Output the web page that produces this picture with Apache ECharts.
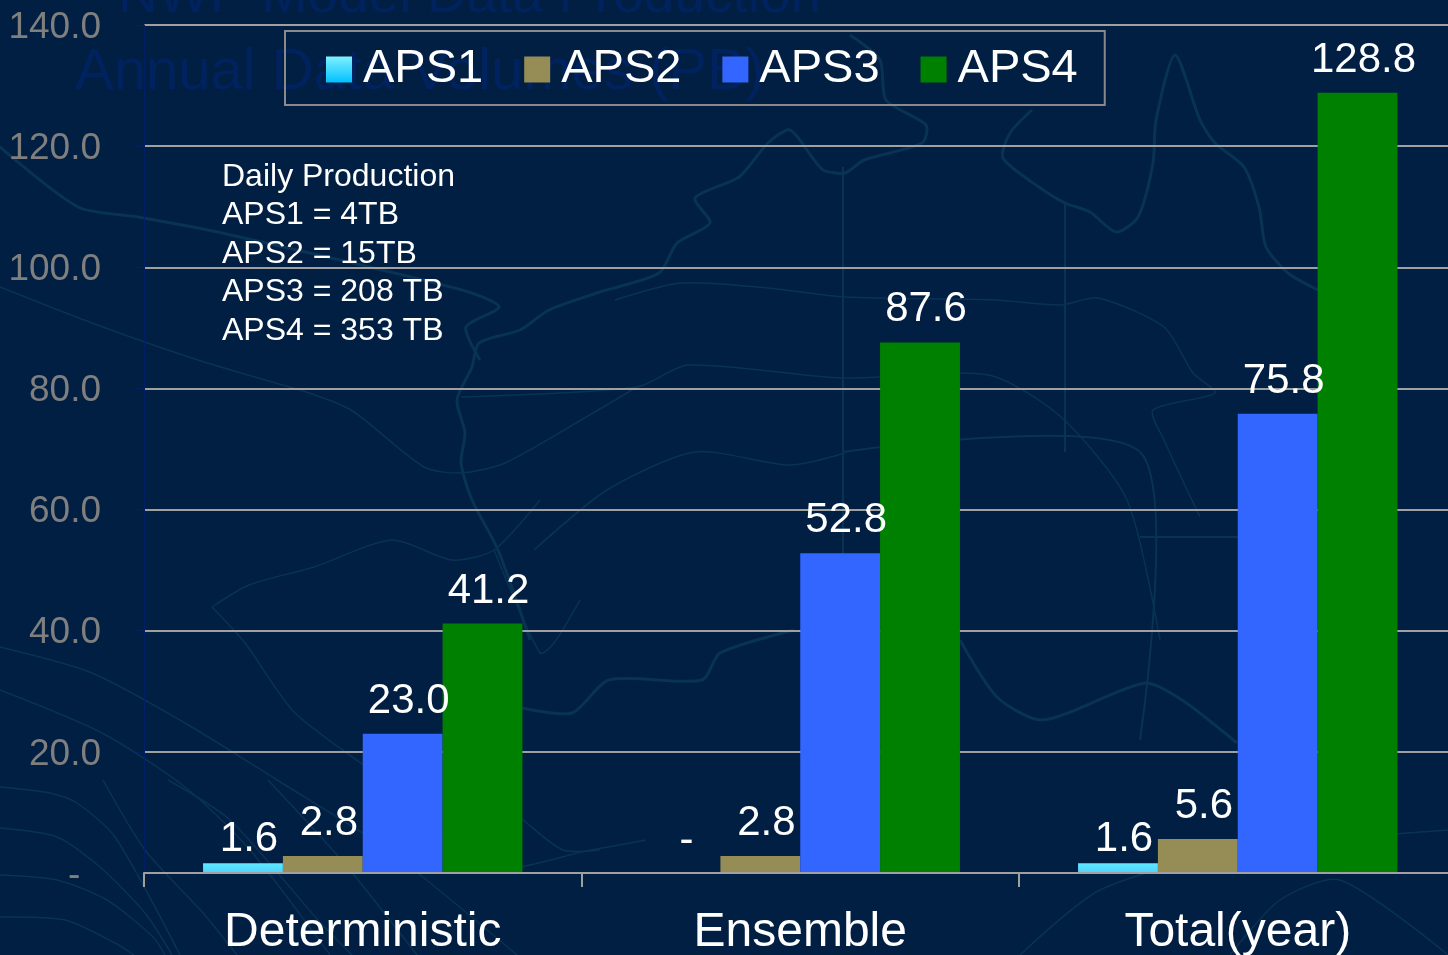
<!DOCTYPE html>
<html>
<head>
<meta charset="utf-8">
<title>Annual Data Volumes</title>
<style>
	html, body { margin: 0; padding: 0; background: #001f42; }
	#chart { width: 1448px; height: 955px; }
</style>
<script src="https://cdn.jsdelivr.net/npm/echarts@6/dist/echarts.min.js"></script>
</head>
<body>
<div id="chart"></div>
<script>
const categories = ['Deterministic', 'Ensemble', 'Total(year)'];
const aps1 = [1.6, 0, 1.6];
const aps2 = [2.8, 2.8, 5.6];
const aps3 = [23.0, 52.8, 75.8];
const aps4 = [41.2, 87.6, 128.8];
const dailyProduction = ['Daily Production', 'APS1 = 4TB', 'APS2 = 15TB', 'APS3 = 208 TB', 'APS4 = 353 TB'];
const backgroundTitle = ['NWP Model Data Production', 'Annual Data Volumes (PB)'];

// faint map behind the chart, only decoration
const coastLines = [
	[[850, 35], [880, 60], [886, 100], [926, 125], [922, 143], [864, 160], [845, 173], [823, 170], [812, 157], [790, 130], [768, 143], [739, 177], [695, 198], [710, 223], [677, 243], [659, 273], [600, 292], [549, 310], [520, 330], [479, 343], [472, 367], [457, 400], [465, 433], [461, 463], [472, 500], [498, 550], [530, 640]],
	[[1032, 110], [1010, 133], [1003, 158], [1039, 187], [1065, 203], [1090, 212], [1116, 232], [1138, 217], [1153, 163], [1156, 120], [1175, 55], [1200, 120], [1215, 143], [1244, 167], [1259, 207], [1266, 247], [1288, 273], [1318, 290]],
	[[522, 708], [572, 713], [609, 680], [702, 680], [720, 653], [794, 630]],
	[[960, 640], [997, 697], [1043, 720], [1145, 683], [1182, 700], [1237, 743]],
	[[0, 147], [78, 207], [138, 217], [222, 233], [462, 290], [499, 307], [466, 327], [480, 360]]
];
const borderLines = [
	[[843, 167], [843, 640]],
	[[1065, 203], [1065, 452]],
	[[843, 452], [1140, 452], [1140, 740]],
	[[1140, 537], [1240, 537]]
];
const riverLines = [
	[[615, 300], [681, 283], [768, 288], [845, 297], [995, 300], [1061, 305], [1098, 298], [1164, 327], [1193, 373], [1215, 393], [1153, 410], [1164, 440], [1200, 517]],
	[[461, 397], [637, 387], [688, 365], [842, 378], [988, 375], [1061, 417], [1127, 500], [1160, 640]],
	[[300, 390], [351, 410], [424, 467], [461, 473], [505, 463], [593, 413], [637, 387]],
	[[534, 550], [607, 490], [695, 452], [790, 465], [845, 453]],
	[[0, 287], [92, 323], [198, 360], [300, 390]],
	[[0, 647], [92, 673], [185, 723], [277, 780], [388, 850], [517, 955]],
	[[0, 690], [102, 733], [185, 787], [250, 850], [330, 955]],
	[[0, 787], [50, 793], [77, 803], [115, 837], [180, 955]],
	[[0, 828], [57, 837], [100, 867], [145, 913], [172, 955]],
	[[0, 875], [57, 880], [107, 900], [153, 937], [165, 955]],
	[[0, 917], [65, 920], [115, 943], [134, 955]],
	[[103, 780], [145, 850], [203, 913], [237, 955]],
	[[168, 780], [230, 820], [318, 920], [352, 955]],
	[[268, 780], [344, 863], [417, 955]],
	[[520, 817], [563, 850], [600, 850]],
	[[212, 607], [249, 585], [314, 567], [392, 540], [452, 560], [494, 550], [540, 500]],
	[[212, 607], [245, 643], [295, 713], [388, 783], [489, 867], [591, 850], [646, 840]],
	[[494, 550], [540, 653], [554, 643], [580, 600]],
	[[1020, 955], [1100, 890], [1240, 850], [1448, 830]],
	[[1230, 955], [1280, 900], [1340, 880], [1448, 955]]
];

function backdrop() {
	const items = [];
	const addLines = (lines, width) => {
		lines.forEach(points => {
			items.push({
				type: 'polyline',
				z: -10,
				silent: true,
				shape: { points: points, smooth: 0.25 },
				style: { stroke: '#083355', lineWidth: width, fill: null }
			});
		});
	};
	addLines(coastLines, 3);
	addLines(borderLines, 2);
	addLines(riverLines, 1.5);
	backgroundTitle.forEach((line, i) => {
		items.push({
			type: 'text',
			z: -9,
			silent: true,
			x: i === 0 ? 118 : 75,
			y: i === 0 ? -31 : 44,
			style: { text: line, fill: '#00235f', font: (i === 0 ? 55 : 58) + 'px "Liberation Sans"' }
		});
	});
	return items;
}

function barLabel(dy) {
	return {
		show: true,
		position: 'top',
		distance: 11.5,
		offset: [6, dy],
		color: '#fff',
		fontFamily: 'Liberation Sans',
		fontSize: 42,
		formatter: p => (p.value === 0 ? '-' : p.value.toFixed(1))
	};
}

function makeSeries(name, values, color) {
	return {
		name: name,
		type: 'bar',
		barGap: 0,
		barCategoryGap: '27%',
		itemStyle: { color: color },
		label: barLabel(0),
		data: values
	};
}

const aps1Swatch = new echarts.graphic.LinearGradient(0, 0, 0, 1, [
	{ offset: 0, color: '#80f0ff' },
	{ offset: 1, color: '#00c0ff' }
]);
const aps1Bar = new echarts.graphic.LinearGradient(0, 0, 0, 1, [
	{ offset: 0, color: '#60e8ff' },
	{ offset: 1, color: '#50d0ff' }
]);

const options = {
	backgroundColor: '#001f42',
	animation: false,
	grid: { left: 144, top: 25, width: 1312.5, height: 848, outerBoundsMode: 'none' },
	legend: {
		left: 285,
		top: 31,
		padding: [15, 27, 12, 41],
		itemWidth: 26,
		itemHeight: 26,
		itemGap: 41,
		icon: 'rect',
		borderColor: '#8a8a8a',
		borderWidth: 2,
		textStyle: { color: '#fff', fontFamily: 'Liberation Sans', fontSize: 47, padding: [0, 0, 0, 6] },
		data: [{ name: 'APS1', itemStyle: { color: aps1Swatch } }, 'APS2', 'APS3', 'APS4']
	},
	xAxis: {
		type: 'category',
		data: categories,
		z: 5,
		axisLine: { lineStyle: { color: '#a0a0a0', width: 2 } },
		axisTick: { show: true, length: 14, lineStyle: { color: '#a0a0a0', width: 2 } },
		axisLabel: { color: '#fff', fontFamily: 'Liberation Sans', fontSize: 48, margin: 36 }
	},
	yAxis: {
		type: 'value',
		min: 0,
		max: 140,
		interval: 20,
		axisLine: { show: true, lineStyle: { color: '#001f66', width: 1 } },
		axisTick: { show: true, length: 8, lineStyle: { color: '#001f66' } },
		splitLine: { lineStyle: { color: '#a0a0a0', width: 2 } },
		axisLabel: {
			color: '#7f7f7f',
			fontFamily: 'Liberation Sans',
			fontSize: 37,
			margin: 43,
			// nudges the labels down a little from the tick
			verticalAlign: 'top',
			lineHeight: 5,
			formatter: v => (v === 0 ? '-  ' : v.toFixed(1))
		}
	},
	graphic: backdrop().concat([
		{
			type: 'text',
			x: 222,
			y: 158,
			style: {
				text: dailyProduction.join('\n'),
				fill: '#fff',
				font: '32px "Liberation Sans"',
				lineHeight: 38.4
			}
		}
	]),
	series: [
		{
			...makeSeries('APS1', aps1, aps1Bar),
			// the small labels sit closer to their bars
			data: aps1.map(v => ({ value: v, label: { offset: [6, v === 0 ? 1 : 9] } }))
		},
		makeSeries('APS2', aps2, '#968d56'),
		makeSeries('APS3', aps3, '#3366ff'),
		makeSeries('APS4', aps4, '#008000')
	]
};

const chart = echarts.init(document.getElementById('chart'));
chart.setOption(options);
</script>
</body>
</html>
